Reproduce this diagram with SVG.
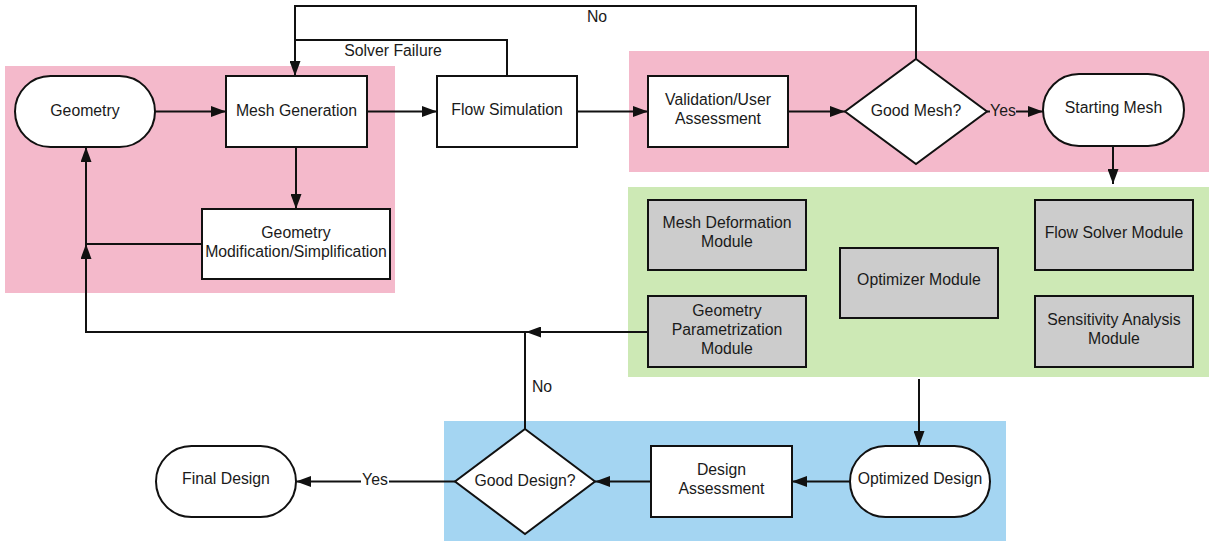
<svg xmlns="http://www.w3.org/2000/svg" width="1209" height="541" viewBox="0 0 1209 541">
  <style>
    .lbl { font-family: "Liberation Sans", Arial, sans-serif; font-size: 15.8px; fill: #1a1a1a; text-anchor: middle; }
    .box { fill: #fff; stroke: #111; stroke-width: 2; }
    .mod { fill: #cccccc; stroke: #111; stroke-width: 2; }
    .wire { fill: none; stroke: #111; stroke-width: 2; }
    .arrow { fill: none; stroke: #111; stroke-width: 2; marker-end: url(#head); }
  </style>
  <defs>
    <marker id="head" markerUnits="userSpaceOnUse" markerWidth="15" markerHeight="11" refX="15" refY="5.5" orient="auto">
      <path d="M0,0 L15,5.5 L0,11 z" fill="#111"/>
    </marker>
  </defs>
  <rect width="1209" height="541" fill="#fff"/>

  <!-- swimlane backgrounds -->
  <g id="lanes">
    <rect x="5" y="66" width="390" height="227" fill="#f4b9cb"/>
    <rect x="629" y="51" width="580" height="121" fill="#f4b9cb"/>
    <rect x="628" y="187" width="581" height="190" fill="#cde9b5"/>
    <rect x="444" y="421" width="562" height="120" fill="#a4d5f2"/>
  </g>

  <!-- connectors -->
  <g id="connectors">
    <line class="arrow" x1="155" y1="111.5" x2="226" y2="111.5"/>
    <line class="arrow" x1="367" y1="111.5" x2="437" y2="111.5"/>
    <line class="arrow" x1="577" y1="111.5" x2="648" y2="111.5"/>
    <line class="arrow" x1="788" y1="111.5" x2="845" y2="111.5"/>
    <line class="arrow" x1="296" y1="147" x2="296" y2="209"/>
    <polyline class="arrow" points="202,244 86,244 86,147"/>
    <polyline class="arrow" points="507,76 507,40 295,40 295,76"/>
    <polyline class="wire" points="916,59 916,6 295,6 295,40"/>
    <line class="wire" x1="987" y1="111.5" x2="990" y2="111.5"/>
    <line class="arrow" x1="1016" y1="111.5" x2="1043" y2="111.5"/>
    <line class="arrow" x1="1113" y1="146" x2="1113" y2="184"/>
    <line class="arrow" x1="919" y1="379" x2="919" y2="446"/>
    <line class="arrow" x1="850" y1="481.5" x2="792" y2="481.5"/>
    <line class="arrow" x1="651" y1="481.5" x2="595" y2="481.5"/>
    <line class="wire" x1="455" y1="481.5" x2="389" y2="481.5"/>
    <line class="arrow" x1="361" y1="481.5" x2="296" y2="481.5"/>
    <line class="arrow" x1="648" y1="332" x2="526" y2="332"/>
    <line class="wire" x1="525" y1="429" x2="525" y2="332"/>
    <polyline class="arrow" points="526,332 86,332 86,244"/>
    <text class="lbl" x="393" y="56">Solver Failure</text>
    <text class="lbl" x="597" y="22">No</text>
    <text class="lbl" x="1003" y="116">Yes</text>
    <text class="lbl" x="375" y="485">Yes</text>
    <text class="lbl" x="542" y="392">No</text>
  </g>

  <!-- flow nodes -->
  <g id="geometry">
    <rect class="box" x="15" y="76" width="140" height="71" rx="35.5"/>
    <text class="lbl" x="85" y="116">Geometry</text>
  </g>
  <g id="mesh-generation">
    <rect class="box" x="226" y="76" width="141" height="71"/>
    <text class="lbl" x="296.5" y="116">Mesh Generation</text>
  </g>
  <g id="geometry-modification">
    <rect class="box" x="202" y="209" width="188" height="70"/>
    <text class="lbl" x="296" y="238">Geometry</text>
    <text class="lbl" x="296" y="257">Modification/Simplification</text>
  </g>
  <g id="flow-simulation">
    <rect class="box" x="437" y="76" width="140" height="71"/>
    <text class="lbl" x="507" y="115">Flow Simulation</text>
  </g>
  <g id="validation">
    <rect class="box" x="648" y="76" width="140" height="71"/>
    <text class="lbl" x="718" y="105">Validation/User</text>
    <text class="lbl" x="718" y="124">Assessment</text>
  </g>
  <g id="good-mesh">
    <polygon class="box" points="916,59 987,111.5 916,164 845,111.5"/>
    <text class="lbl" x="916" y="116">Good Mesh?</text>
  </g>
  <g id="starting-mesh">
    <rect class="box" x="1043" y="74" width="141" height="72" rx="36"/>
    <text class="lbl" x="1113.5" y="113">Starting Mesh</text>
  </g>

  <!-- optimization modules -->
  <g id="mesh-deformation">
    <rect class="mod" x="648" y="200" width="158" height="70"/>
    <text class="lbl" x="727" y="228">Mesh Deformation</text>
    <text class="lbl" x="727" y="247">Module</text>
  </g>
  <g id="geometry-parametrization">
    <rect class="mod" x="648" y="296" width="158" height="71"/>
    <text class="lbl" x="727" y="316">Geometry</text>
    <text class="lbl" x="727" y="335">Parametrization</text>
    <text class="lbl" x="727" y="354">Module</text>
  </g>
  <g id="optimizer">
    <rect class="mod" x="840" y="248" width="158" height="70"/>
    <text class="lbl" x="919" y="285">Optimizer Module</text>
  </g>
  <g id="flow-solver">
    <rect class="mod" x="1035" y="200" width="158" height="70"/>
    <text class="lbl" x="1114" y="238">Flow Solver Module</text>
  </g>
  <g id="sensitivity-analysis">
    <rect class="mod" x="1035" y="296" width="158" height="71"/>
    <text class="lbl" x="1114" y="325">Sensitivity Analysis</text>
    <text class="lbl" x="1114" y="344">Module</text>
  </g>

  <!-- design evaluation -->
  <g id="optimized-design">
    <rect class="box" x="850" y="446" width="140" height="71" rx="35.5"/>
    <text class="lbl" x="920" y="484">Optimized Design</text>
  </g>
  <g id="design-assessment">
    <rect class="box" x="651" y="446" width="141" height="71"/>
    <text class="lbl" x="721.5" y="475">Design</text>
    <text class="lbl" x="721.5" y="494">Assessment</text>
  </g>
  <g id="good-design">
    <polygon class="box" points="525,429 595,481.5 525,534 455,481.5"/>
    <text class="lbl" x="525" y="486">Good Design?</text>
  </g>
  <g id="final-design">
    <rect class="box" x="156" y="446" width="140" height="71" rx="35.5"/>
    <text class="lbl" x="226" y="484">Final Design</text>
  </g>
</svg>
